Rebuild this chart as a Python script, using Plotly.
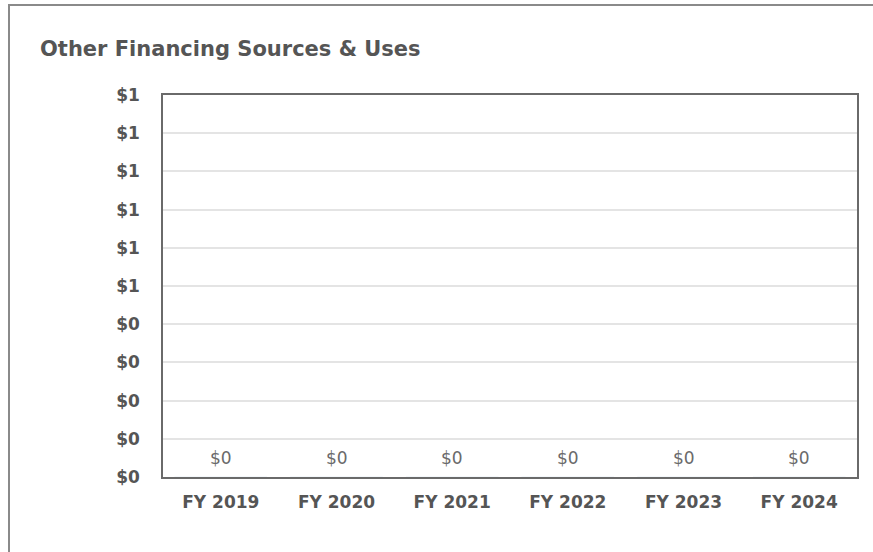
import plotly.graph_objects as go

# Fiscal years and their other financing sources & uses (in dollars)
fiscal_years = ["FY 2019", "FY 2020", "FY 2021", "FY 2022", "FY 2023", "FY 2024"]
amounts = [0, 0, 0, 0, 0, 0]

# Value axis ticks and their currency labels (rounded to whole dollars)
y_tick_values = [0.0, 0.1, 0.2, 0.3, 0.4, 0.5, 0.6, 0.7, 0.8, 0.9, 1.0]
y_tick_labels = ["$0", "$0", "$0", "$0", "$0", "$1", "$1", "$1", "$1", "$1", "$1"]

FONT = "DejaVu Sans, Verdana, sans-serif"
W, H = 873, 552
M_L, M_R, M_T, M_B = 163, 16, 95, 75
plot_w = W - M_L - M_R
plot_h = H - M_T - M_B

fig = go.Figure()
fig.add_trace(go.Bar(
    x=fiscal_years,
    y=amounts,
    marker_color="#4a6fa5",
    hoverinfo="skip",
))

# Value labels above each bar
for year, value in zip(fiscal_years, amounts):
    fig.add_annotation(
        x=year, y=value, xref="x", yref="y",
        text=f"${value:,.0f}",
        showarrow=False, yanchor="middle", yshift=19,
        font=dict(family=FONT, size=17, color="#6a6a6a"),
    )

# Outer card frame, expressed in paper units relative to the plot area
fig.add_shape(
    type="rect", xref="paper", yref="paper",
    x0=(9 - M_L) / plot_w, x1=1 + (M_R + 20) / plot_w,
    y0=-(M_B + 20) / plot_h, y1=1 + (M_T - 5) / plot_h,
    line=dict(color="#8a8a8a", width=2), fillcolor="rgba(0,0,0,0)", layer="below",
)

fig.update_layout(
    width=W, height=H,
    margin=dict(l=M_L, r=M_R, t=M_T, b=M_B),
    paper_bgcolor="white", plot_bgcolor="white",
    showlegend=False,
    font=dict(family=FONT, color="#505050"),
    title=dict(
        text="<b>Other Financing Sources & Uses</b>",
        xref="container", yref="container",
        x=40 / W, xanchor="left",
        y=1 - 49 / H, yanchor="middle",
        font=dict(family=FONT, size=21, color="#555555"),
    ),
    xaxis=dict(
        type="category",
        showline=True, mirror=True, linecolor="#6a6a6a", linewidth=1.5,
        showgrid=False,
        ticks="outside", ticklen=9, tickcolor="rgba(0,0,0,0)",
        tickfont=dict(family=FONT, size=17, color="#555555", weight="bold"),
    ),
    yaxis=dict(
        range=[0, 1],
        tickvals=y_tick_values, ticktext=y_tick_labels,
        showline=True, mirror=True, linecolor="#6a6a6a", linewidth=1.5,
        showgrid=True, gridcolor="#e4e4e4", gridwidth=1.5,
        zeroline=False,
        ticks="outside", ticklen=18, tickcolor="rgba(0,0,0,0)",
        tickfont=dict(family=FONT, size=17, color="#555555", weight="bold"),
    ),
)

fig.write_html("out.html")
